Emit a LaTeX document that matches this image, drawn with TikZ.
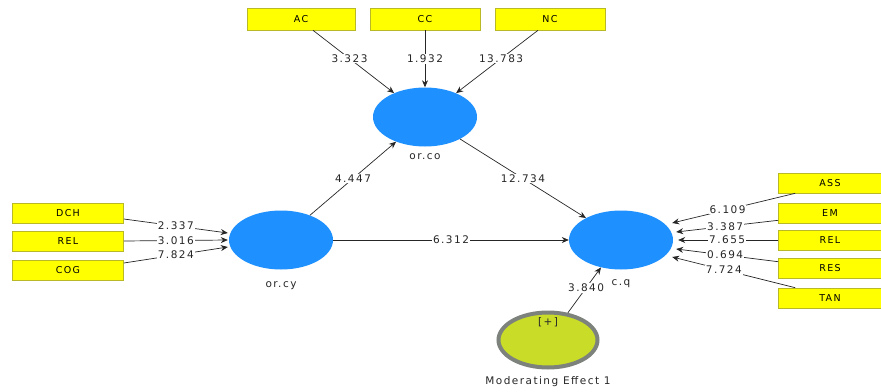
\documentclass[tikz,border=0pt]{standalone}
\usepackage{fontspec}
\newfontfamily\plsfont[LetterSpace=14]{DejaVu Sans}
\usetikzlibrary{shapes.geometric,arrows.meta,positioning}
\definecolor{lvblue}{RGB}{30,144,255}
\definecolor{indyellow}{RGB}{255,255,0}
\definecolor{indborder}{RGB}{185,185,40}
\definecolor{modlime}{RGB}{200,220,40}
\definecolor{modgray}{RGB}{125,130,125}
\tikzset{
  latent/.style={ellipse,fill=lvblue,minimum width=104pt,minimum height=59pt,inner sep=0pt},
  modnode/.style={ellipse,fill=modlime,draw=modgray,line width=4pt,minimum width=99pt,minimum height=55pt,inner sep=0pt},
  indbox/.style={rectangle,fill=indyellow,draw=indborder,line width=0.6pt,minimum height=20pt,font=\plsfont\fontsize{9.5}{11}\selectfont},
  lvtext/.style={font=\plsfont\fontsize{10.5}{12}\selectfont,text=black!85},
  coefflabel/.style={fill=white,inner sep=0.8pt,font=\plsfont\fontsize{10.5}{12}\selectfont,text=black!85},
  pathedge/.style={-{Stealth[length=7pt,width=6pt]},line width=0.7pt,color=black!85}
}

\begin{document}
\begin{tikzpicture}[x=1pt,y=-1pt]
  \useasboundingbox (0,0) rectangle (881,391);

  % latent variables
  \node[latent,label={[lvtext,label distance=3pt]below:or.co}] (orco) at (425,117) {};
  \node[latent,label={[lvtext,label distance=8pt]below:or.cy}] (orcy) at (281,240) {};
  \node[latent] (cq) at (621,240) {};
  \node[lvtext,below=6pt of cq.south] (cqtext) {c.q};
  \node[modnode,label={[lvtext,label distance=3pt]below:Moderating Effect 1}] (mod) at (548,340) {};
  \node[lvtext,below=3pt of mod.north] (modplus) {[+]};

  % indicators of or.co
  \node[indbox,minimum width=108pt,minimum height=22pt] (ac) at (301,19) {AC};
  \node[indbox,minimum width=110pt,minimum height=22pt] (cc) at (425,19) {CC};
  \node[indbox,minimum width=110pt,minimum height=22pt] (nc) at (550,19) {NC};

  % indicators of or.cy
  \node[indbox,minimum width=111pt] (dch) at (68,213) {DCH};
  \node[indbox,minimum width=111pt] (relcy) at (68,241) {REL};
  \node[indbox,minimum width=111pt] (cog) at (68,270) {COG};

  % indicators of c.q
  \node[indbox,minimum width=103pt] (ass) at (830,183) {ASS};
  \node[indbox,minimum width=103pt] (em) at (830,213) {EM};
  \node[indbox,minimum width=103pt] (relcq) at (830,240) {REL};
  \node[indbox,minimum width=103pt] (res) at (830,268) {RES};
  \node[indbox,minimum width=103pt] (tan) at (830,298) {TAN};

  % outer weights
  \draw[pathedge] ([xshift=12pt]ac.south) -- node[coefflabel,pos=0.45]{3.323} (orco);
  \draw[pathedge] (cc.south) -- node[coefflabel,pos=0.5]{1.932} (orco);
  \draw[pathedge] ([xshift=-12pt]nc.south) -- node[coefflabel,pos=0.45]{13.783} (orco);
  \draw[pathedge] ([shift={(0,6)}]dch.east) -- node[coefflabel]{2.337} ([shift={(-1,-7)}]orcy.west);
  \draw[pathedge] (relcy.east) -- node[coefflabel]{3.016} ([xshift=-1pt]orcy.west);
  \draw[pathedge] ([shift={(0,-7)}]cog.east) -- node[coefflabel]{7.824} ([shift={(-1,7)}]orcy.west);
  \draw[pathedge] ([xshift=17pt]ass.south west) -- node[coefflabel,pos=0.55]{6.109} ([shift={(-1,-17)}]cq.east);
  \draw[pathedge] ([yshift=3pt]em.south west) -- node[coefflabel,pos=0.52]{3.387} ([shift={(3,-8)}]cq.east);
  \draw[pathedge] (relcq.west) -- node[coefflabel,pos=0.51]{7.655} ([shift={(5,0)}]cq.east);
  \draw[pathedge] ([yshift=-4pt]res.north west) -- node[coefflabel,pos=0.52]{0.694} ([shift={(3,9)}]cq.east);
  \draw[pathedge] ([xshift=17pt]tan.north west) -- node[coefflabel,pos=0.58]{7.724} ([shift={(-1,17)}]cq.east);

  % inner model
  \draw[pathedge] (orcy) -- node[coefflabel]{4.447} (orco);
  \draw[pathedge] (orco) -- node[coefflabel]{12.734} (cq);
  \draw[pathedge] (orcy) -- node[coefflabel]{6.312} (cq);
  \draw[pathedge] (mod) -- node[coefflabel,pos=0.55]{3.840} (cq);
\end{tikzpicture}
\end{document}
